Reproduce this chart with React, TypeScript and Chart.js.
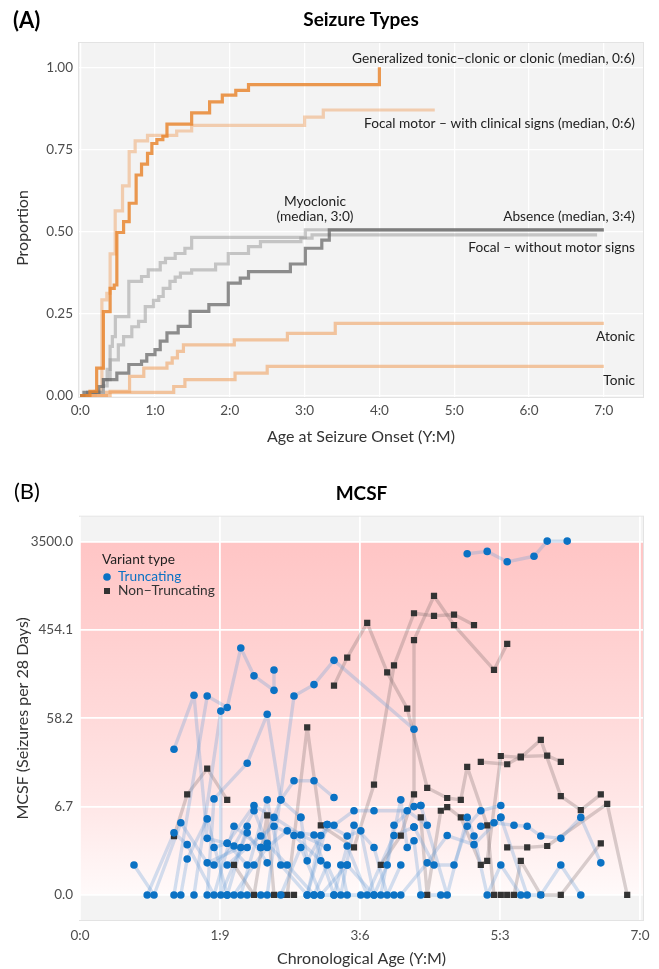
import React, { useEffect, useRef } from "react";
import { Chart, registerables } from "chart.js";

Chart.register(...registerables);

const FONT = "Lato, 'Noto Sans', sans-serif";
const TICK_COLOR = "#4d4d4d";
const TEXT_COLOR = "#222222";

// ---------------- Panel A : Seizure Types ----------------
const onsetTickValues = [0, 1, 2, 3, 4, 5, 6, 7];
const onsetTickLabels = ["0:0", "1:0", "2:0", "3:0", "4:0", "5:0", "6:0", "7:0"];
const proportionTicks = [0, 0.25, 0.5, 0.75, 1.0];

const gtcAges = [0, 0.13, 0.22, 0.31, 0.4, 0.455, 0.49, 0.58, 0.655, 0.748, 0.82, 0.9, 0.958, 1.025, 1.105, 1.16, 1.49, 1.73, 1.9, 2.08, 2.25, 4.0];
const gtcProps = [0, 0.013, 0.084, 0.256, 0.327, 0.337, 0.497, 0.53, 0.586, 0.672, 0.705, 0.738, 0.768, 0.78, 0.79, 0.827, 0.861, 0.895, 0.915, 0.93, 0.947, 1.0];

const focalMotorAges = [0, 0.2, 0.29, 0.356, 0.4, 0.468, 0.566, 0.655, 0.735, 0.9, 1.29, 1.49, 3.0, 3.25, 4.74];
const focalMotorProps = [0, 0.013, 0.292, 0.312, 0.432, 0.563, 0.639, 0.743, 0.776, 0.793, 0.806, 0.823, 0.848, 0.87, 0.87];

const myoclonicAges = [0, 0.1, 0.31, 0.36, 0.4, 0.43, 0.47, 0.65, 0.82, 0.91, 1.07, 1.14, 1.27, 1.4, 1.49, 3.01, 7.0];
const myoclonicProps = [0, 0.01, 0.03, 0.08, 0.15, 0.18, 0.241, 0.348, 0.363, 0.383, 0.405, 0.418, 0.433, 0.449, 0.482, 0.505, 0.505];

const focalNonMotorAges = [0, 0.1, 0.31, 0.4, 0.51, 0.58, 0.69, 0.78, 0.87, 0.98, 1.05, 1.11, 1.2, 1.27, 1.34, 1.49, 1.81, 1.98, 2.25, 2.41, 2.95, 3.1, 6.91];
const focalNonMotorProps = [0, 0.01, 0.049, 0.109, 0.155, 0.18, 0.21, 0.226, 0.271, 0.29, 0.302, 0.327, 0.348, 0.361, 0.373, 0.383, 0.401, 0.433, 0.454, 0.469, 0.48, 0.49, 0.49];

const absenceAges = [0, 0.05, 0.25, 0.31, 0.49, 0.65, 0.82, 0.89, 1.0, 1.07, 1.16, 1.31, 1.47, 1.72, 1.98, 2.14, 2.25, 2.81, 3.01, 3.23, 3.33, 7.0];
const absenceProps = [0, 0.01, 0.028, 0.049, 0.069, 0.095, 0.105, 0.125, 0.14, 0.166, 0.191, 0.211, 0.257, 0.277, 0.343, 0.358, 0.378, 0.401, 0.449, 0.474, 0.505, 0.505];

const atonicAges = [0, 0.4, 0.66, 0.85, 1.16, 1.23, 1.3, 1.38, 2.06, 2.77, 3.41, 7.0];
const atonicProps = [0, 0.013, 0.059, 0.084, 0.099, 0.115, 0.135, 0.155, 0.17, 0.19, 0.22, 0.22];

const tonicAges = [0, 0.35, 1.25, 1.4, 2.07, 2.5, 7.0];
const tonicProps = [0, 0.01, 0.028, 0.049, 0.069, 0.089, 0.089];

const seizureLabels = [
  "Generalized tonic\u2212clonic or clonic (median, 0:6)",
  "Focal motor \u2013 with clinical signs (median, 0:6)",
  "Myoclonic",
  "(median, 3:0)",
  "Absence (median, 3:4)",
  "Focal \u2013 without motor signs",
  "Atonic",
  "Tonic",
];

// ---------------- Panel B : MCSF ----------------
const ageTickValues = [0, 1.75, 3.5, 5.25, 7];
const ageTickLabels = ["0:0", "1:9", "3:6", "5:3", "7:0"];
const mcsfTickValues = [0, 6.7, 58.2, 454.1, 3500];
const mcsfTickLabels = ["0.0", "6.7", "58.2", "454.1", "3500.0"];

// [age in years, seizures per 28 days]
const truncatingPaths: number[][][] = [
  [[0.675, 1], [0.925, 0], [1.26, 4.3], [1.59, 1.1], [2.01, 2]],
  [[0.84, 0], [1.175, 3.2], [1.34, 2.2], [1.675, 0], [1.925, 3.9], [2.26, 2]],
  [[1.175, 28], [1.425, 100], [1.59, 2.7], [1.84, 2.3], [2.09, 1]],
  [[1.175, 0], [1.59, 98], [1.84, 75], [2.01, 300], [2.175, 157], [2.425, 112], [2.425, 180]],
  [[1.425, 0], [1.76, 69], [1.76, 0], [2.09, 3.2], [2.34, 1.1]],
  [[1.59, 0], [1.675, 8.2], [2.09, 20], [2.34, 64], [2.51, 8], [2.76, 5]],
  [[1.675, 2], [1.84, 2.3], [2.175, 6.9], [2.425, 5], [2.76, 3], [3.09, 2]],
  [[1.675, 1], [1.925, 2.1], [2.175, 6], [2.34, 2.3], [2.59, 1], [2.925, 0]],
  [[1.84, 1], [2.09, 2], [2.26, 2.9], [2.425, 3.9], [2.675, 2.95], [3.01, 1.2]],
  [[1.84, 0], [2.01, 0], [2.34, 8], [2.51, 1], [2.84, 0], [3.09, 4.1]],
  [[1.925, 0], [2.175, 1], [2.34, 2], [2.59, 3.4], [2.925, 3], [3.175, 0]],
  [[2.09, 0], [2.26, 0], [2.51, 0], [2.76, 2], [3.01, 0], [3.34, 1]],
  [[2.26, 2], [2.51, 8], [2.675, 13], [2.925, 13], [3.175, 8.5]],
  [[2.34, 0], [2.675, 98], [2.925, 128], [3.175, 225], [4.175, 45]],
  [[2.76, 5], [2.84, 1.2], [3.09, 4.1], [3.34, 2.9], [3.51, 3.4], [3.675, 0]],
  [[2.84, 0], [3.01, 2.95], [3.175, 4], [3.425, 6], [3.675, 6], [4.09, 6], [4.34, 4]],
  [[2.925, 0], [3.09, 1], [3.26, 0], [3.425, 4], [3.675, 2], [3.84, 0], [4.01, 1]],
  [[3.01, 0], [3.175, 0], [3.34, 2.1], [3.59, 0], [3.925, 2.95], [4.175, 3.8]],
  [[3.26, 1], [3.34, 0], [3.51, 0], [3.76, 0], [3.925, 4], [4.175, 6.7], [4.26, 6.9]],
  [[3.34, 1], [3.675, 0], [3.84, 1], [4.01, 8], [4.09, 2], [4.175, 2.5], [4.26, 0], [4.51, 0]],
  [[3.925, 0], [4.01, 0], [4.34, 1.1], [4.59, 2.95], [4.925, 2.2], [5.26, 5]],
  [[4.175, 3.8], [4.425, 1], [4.675, 1], [4.84, 3.9], [5.01, 6], [5.26, 6.9]],
  [[4.26, 6.9], [4.59, 0], [4.84, 5], [4.925, 2.9], [5.09, 0], [5.26, 1], [5.51, 0]],
  [[4.84, 2650], [5.09, 2800], [5.34, 2200], [5.675, 2500], [5.84, 3550], [6.09, 3550]],
  [[5.01, 3.9], [5.175, 4.3], [5.425, 4], [5.59, 3.9], [5.76, 2.9], [6.01, 2.7], [6.26, 5], [6.51, 1.1]],
  [[5.26, 5], [5.59, 0], [5.76, 0], [6.01, 1], [6.26, 0]],
  [[1.26, 0], [1.34, 1.3], [1.59, 4.8], [1.84, 0], [2.09, 3.9]],
];

const nonTruncatingPaths: number[][][] = [
  [[1.175, 2.9], [1.34, 9.2], [1.59, 17.5], [1.84, 8]],
  [[1.925, 1], [2.175, 0], [2.34, 5.3], [2.425, 0], [2.51, 0], [2.675, 0]],
  [[2.59, 0], [2.84, 47], [3.01, 4], [3.425, 2], [3.675, 11.8], [3.925, 200], [4.175, 670], [4.425, 630], [4.675, 650], [4.925, 510]],
  [[3.175, 125], [3.34, 240], [3.59, 535], [3.84, 170], [4.09, 73], [4.34, 10.9], [4.59, 8.4], [4.76, 8], [4.84, 18.3], [5.09, 4], [5.175, 0], [5.26, 0]],
  [[3.76, 1], [4.01, 2.95], [4.175, 9.2], [4.175, 360], [4.425, 1000], [4.675, 510], [5.175, 180], [5.34, 330]],
  [[4.26, 5], [4.34, 0], [4.51, 6], [4.59, 6.6], [4.76, 5], [5.01, 1], [5.09, 1.2], [5.26, 23.8], [5.51, 23], [5.76, 35], [6.01, 8.8], [6.26, 6.1], [6.51, 9.2]],
  [[5.01, 20.6], [5.34, 19.5], [5.51, 23.5], [5.84, 24], [6.01, 20.7]],
  [[5.34, 0], [5.425, 0], [5.51, 1.2], [5.76, 0], [6.01, 0], [6.51, 2.3]],
  [[5.34, 2], [5.59, 2], [5.84, 2.1], [6.59, 7.2], [6.84, 0]],
];

const legendTitle = "Variant type";
const legendLabels = ["Truncating", "Non\u2212Truncating"];

// ---------------- helpers ----------------
const stepData = (ages: number[], props: number[]) => ages.map((a, i) => ({ x: a, y: props[i] }));
const tr = (v: number) => Math.log1p(v);
const pathData = (p: number[][]) => p.map(([a, v]) => ({ x: a, y: tr(v) }));

function bgPlugin(withBand: boolean) {
  return {
    id: "panelBg",
    beforeDraw(chart: any) {
      const { ctx, chartArea: a, scales } = chart;
      ctx.save();
      ctx.fillStyle = "#f3f3f3";
      ctx.fillRect(a.left, a.top, a.right - a.left, a.bottom - a.top);
      if (withBand) {
        const yTop = scales.y.getPixelForValue(tr(mcsfTickValues[mcsfTickValues.length - 1]));
        const yBot = scales.y.getPixelForValue(tr(mcsfTickValues[0]));
        const g = ctx.createLinearGradient(0, yTop, 0, yBot);
        g.addColorStop(0, "#ffc5c5");
        g.addColorStop(0.25, "#ffcfcf");
        g.addColorStop(0.5, "#ffdada");
        g.addColorStop(0.75, "#ffe7e7");
        g.addColorStop(1, "#fffafa");
        ctx.fillStyle = g;
        ctx.fillRect(a.left, yTop, a.right - a.left, yBot - yTop);
      }
      ctx.strokeStyle = "#e3e3e3";
      ctx.lineWidth = 1;
      ctx.strokeRect(a.left - 0.5, a.top - 0.5, a.right - a.left + 1, a.bottom - a.top + 1);
      ctx.restore();
    },
  };
}

const ANNOT_FONT = `13.7px ${FONT}`;
const AXIS_TITLE_FONT = `16px ${FONT}`;

const textPluginA = {
  id: "textA",
  afterDraw(chart: any) {
    const { ctx, chartArea: a } = chart;
    const cx = (a.left + a.right) / 2;
    ctx.save();
    ctx.textBaseline = "middle";
    ctx.fillStyle = "#000";
    ctx.font = `bold 22px ${FONT}`;
    ctx.textAlign = "left";
    ctx.fillText("(A)", 13, 21);
    ctx.font = `bold 19px ${FONT}`;
    ctx.textAlign = "center";
    ctx.fillText("Seizure Types", cx, 20);
    ctx.fillStyle = "#333";
    ctx.font = AXIS_TITLE_FONT;
    ctx.fillText("Age at Seizure Onset (Y:M)", cx, 437);
    ctx.save();
    ctx.translate(23, 228);
    ctx.rotate(-Math.PI / 2);
    ctx.fillText("Proportion", 0, 0);
    ctx.restore();
    ctx.fillStyle = TEXT_COLOR;
    ctx.font = ANNOT_FONT;
    ctx.textAlign = "right";
    const rx = 635;
    ctx.fillText(seizureLabels[0], rx, 59);
    ctx.fillText(seizureLabels[1], rx, 124);
    ctx.fillText(seizureLabels[4], rx, 217);
    ctx.fillText(seizureLabels[5], rx, 248);
    ctx.fillText(seizureLabels[6], rx, 337);
    ctx.fillText(seizureLabels[7], rx, 381);
    ctx.textAlign = "center";
    ctx.fillText(seizureLabels[2], 315, 202);
    ctx.fillText(seizureLabels[3], 315, 217);
    ctx.restore();
  },
};

const textPluginB = {
  id: "textB",
  afterDraw(chart: any) {
    const { ctx, chartArea: a } = chart;
    const cx = (a.left + a.right) / 2;
    ctx.save();
    ctx.textBaseline = "middle";
    ctx.fillStyle = "#000";
    ctx.font = `22px ${FONT}`;
    ctx.textAlign = "left";
    ctx.fillText("(B)", 14, 27);
    ctx.font = `bold 19px ${FONT}`;
    ctx.textAlign = "center";
    ctx.fillText("MCSF", cx, 29);
    ctx.fillStyle = "#333";
    ctx.font = AXIS_TITLE_FONT;
    ctx.fillText("Chronological Age (Y:M)", cx, 494);
    ctx.save();
    ctx.translate(23, (a.top + a.bottom) / 2);
    ctx.rotate(-Math.PI / 2);
    ctx.fillText("MCSF (Seizures per 28 Days)", 0, 0);
    ctx.restore();
    // legend
    ctx.textAlign = "left";
    ctx.font = ANNOT_FONT;
    ctx.fillStyle = TEXT_COLOR;
    ctx.fillText(legendTitle, 102, 95);
    ctx.fillStyle = "#0b72c4";
    ctx.beginPath();
    ctx.arc(107, 112, 3.8, 0, Math.PI * 2);
    ctx.fill();
    ctx.fillText(legendLabels[0], 118, 112);
    ctx.fillStyle = "#333";
    ctx.fillRect(104, 123, 6, 6);
    ctx.fillText(legendLabels[1], 118, 126);
    ctx.restore();
  },
};

const tickFont = { family: FONT, size: 13.5 };

function makeChartA(canvas: HTMLCanvasElement) {
  const series = [
    { ages: gtcAges, props: gtcProps, color: "rgba(232,130,42,0.82)" },
    { ages: absenceAges, props: absenceProps, color: "rgba(95,95,95,0.7)" },
    { ages: myoclonicAges, props: myoclonicProps, color: "rgba(150,150,150,0.5)" },
    { ages: focalNonMotorAges, props: focalNonMotorProps, color: "rgba(150,150,150,0.5)" },
    { ages: focalMotorAges, props: focalMotorProps, color: "rgba(240,165,105,0.5)" },
    { ages: atonicAges, props: atonicProps, color: "rgba(238,155,85,0.55)" },
    { ages: tonicAges, props: tonicProps, color: "rgba(238,155,85,0.55)" },
  ];
  return new Chart(canvas, {
    type: "line",
    data: {
      datasets: series.map((s) => ({
        data: stepData(s.ages, s.props),
        borderColor: s.color,
        borderWidth: 3.2,
        stepped: "before",
        pointRadius: 0,
        fill: false,
        borderJoinStyle: "miter",
        borderCapStyle: "butt",
      })),
    } as any,
    options: {
      responsive: false,
      animation: false,
      layout: { padding: { left: 0, right: 16, top: 43, bottom: 0 } },
      plugins: { legend: { display: false }, tooltip: { enabled: false } },
      scales: {
        x: {
          type: "linear",
          min: -0.016,
          max: 7.524,
          afterBuildTicks: (s: any) => {
            s.ticks = onsetTickValues.map((v) => ({ value: v }));
          },
          afterFit: (s: any) => {
            s.height = 68;
          },
          ticks: {
            callback: (_v: any, i: number) => onsetTickLabels[i],
            font: tickFont,
            color: TICK_COLOR,
            padding: 6,
            maxRotation: 0,
            autoSkip: false,
          },
          grid: { color: "#ffffff", lineWidth: 1.3, drawTicks: false },
          border: { display: false },
        },
        y: {
          type: "linear",
          min: -0.004,
          max: 1.074,
          afterBuildTicks: (s: any) => {
            s.ticks = proportionTicks.map((v) => ({ value: v }));
          },
          afterFit: (s: any) => {
            s.width = 79;
          },
          ticks: {
            callback: (v: any) => Number(v).toFixed(2),
            font: tickFont,
            color: TICK_COLOR,
            padding: 6,
          },
          grid: { color: "#ffffff", lineWidth: 1.3, drawTicks: false },
          border: { display: false },
        },
      },
    } as any,
    plugins: [bgPlugin(false), textPluginA] as any,
  });
}

function makeChartB(canvas: HTMLCanvasElement) {
  const lineSets: any[] = [];
  truncatingPaths.forEach((p) =>
    lineSets.push({
      type: "line",
      data: pathData(p),
      borderColor: "rgba(105,160,215,0.3)",
      borderWidth: 3.4,
      borderJoinStyle: "round",
      borderCapStyle: "round",
      pointRadius: 0,
      fill: false,
      tension: 0,
      order: 3,
    })
  );
  nonTruncatingPaths.forEach((p) =>
    lineSets.push({
      type: "line",
      data: pathData(p),
      borderColor: "rgba(115,100,100,0.28)",
      borderWidth: 3.4,
      borderJoinStyle: "round",
      borderCapStyle: "round",
      pointRadius: 0,
      fill: false,
      tension: 0,
      order: 3,
    })
  );
  const bluePts = truncatingPaths.flatMap((p) => pathData(p));
  const blackPts = nonTruncatingPaths.flatMap((p) => pathData(p));
  const pointSets = [
    {
      type: "scatter",
      data: blackPts,
      pointStyle: "rect",
      pointRadius: 4.4,
      backgroundColor: "#333333",
      borderWidth: 0,
      showLine: false,
      order: 1,
    },
    {
      type: "scatter",
      data: bluePts,
      pointStyle: "circle",
      pointRadius: 3.8,
      backgroundColor: "#0b72c4",
      borderWidth: 0,
      showLine: false,
      order: 0,
    },
  ];
  return new Chart(canvas, {
    type: "line",
    data: { datasets: [...lineSets, ...pointSets] } as any,
    options: {
      responsive: false,
      animation: false,
      layout: { padding: { left: 0, right: 16, top: 51.7, bottom: 0 } },
      plugins: { legend: { display: false }, tooltip: { enabled: false } },
      scales: {
        x: {
          type: "linear",
          min: 0,
          max: 7.0375,
          afterBuildTicks: (s: any) => {
            s.ticks = ageTickValues.map((v) => ({ value: v }));
          },
          afterFit: (s: any) => {
            s.height = 49;
          },
          ticks: {
            callback: (_v: any, i: number) => ageTickLabels[i],
            font: tickFont,
            color: TICK_COLOR,
            padding: 8,
            maxRotation: 0,
            autoSkip: false,
          },
          grid: { color: "#ffffff", lineWidth: 1.8, drawTicks: false },
          border: { display: false },
        },
        y: {
          type: "linear",
          min: -0.578,
          max: 8.739,
          afterBuildTicks: (s: any) => {
            s.ticks = mcsfTickValues.map((v) => ({ value: tr(v) }));
          },
          afterFit: (s: any) => {
            s.width = 80;
          },
          ticks: {
            callback: (_v: any, i: number) => mcsfTickLabels[i],
            font: tickFont,
            color: TICK_COLOR,
            padding: 7,
          },
          grid: { color: "#ffffff", lineWidth: 1.8, drawTicks: false },
          border: { display: false },
        },
      },
    } as any,
    plugins: [bgPlugin(true), textPluginB] as any,
  });
}

export default function App() {
  const refA = useRef<HTMLCanvasElement>(null);
  const refB = useRef<HTMLCanvasElement>(null);
  useEffect(() => {
    const a = makeChartA(refA.current!);
    const b = makeChartB(refB.current!);
    return () => {
      a.destroy();
      b.destroy();
    };
  }, []);
  return (
    <div style={{ position: "absolute", left: 0, top: 0, width: 659, height: 969, background: "#ffffff" }}>
      <canvas ref={refA} width={659} height={465} style={{ display: "block", width: 659, height: 465 }} />
      <canvas ref={refB} width={659} height={504} style={{ display: "block", width: 659, height: 504 }} />
    </div>
  );
}
